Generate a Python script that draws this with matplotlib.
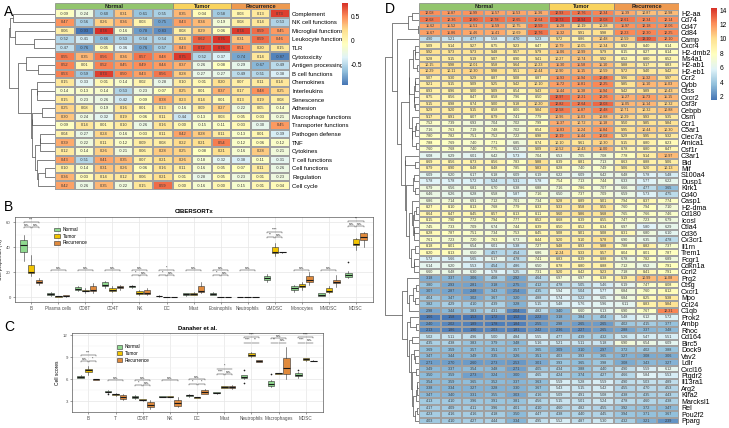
import numpy as np
import matplotlib
matplotlib.use('Agg')
import matplotlib.pyplot as plt
from matplotlib.colors import LinearSegmentedColormap, Normalize
from matplotlib.patches import Patch, Rectangle
from matplotlib.cm import ScalarMappable

plt.rcParams['font.family'] = ['Liberation Sans', 'DejaVu Sans']

# ---------------- data ----------------
groups = ['Normal', 'Tumor', 'Recurrence']
group_sizes = [6, 3, 3]

a_rows = ['Complement', 'NK cell functions', 'Microglial functions', 'Leukocyte functions', 'TLR',
          'Cytotoxicity', 'Antigen processing', 'B cell functions', 'Chemokines', 'Interleukins',
          'Senescence', 'Adhesion', 'Macrophage functions', 'Transporter functions', 'Pathogen defense',
          'TNF', 'Cytokines', 'T cell functions', 'Cell functions', 'Regulation', 'Cell cycle']
a_vals = [
    [-0.09, -0.24, -0.60, 0.31, -0.61, -0.55, 0.35, -0.04, -0.58, 0.03, 0.13, 0.73],
    [0.47, -0.56, 0.26, 0.36, 0.03, -0.75, 0.43, 0.34, -0.19, 0.08, 0.14, -0.53],
    [0.06, -0.93, 0.78, -0.16, -0.78, -0.83, 0.08, 0.29, -0.06, 0.74, 0.59, 0.45],
    [-0.52, -0.41, -0.66, -0.53, -0.54, -0.54, 0.24, 0.62, 0.76, 0.31, 0.59, 0.46],
    [-0.47, -0.76, -0.05, -0.36, -0.76, -0.57, 0.43, 0.72, 0.76, 0.51, 0.20, 0.15],
    [0.55, 0.35, 0.56, 0.36, 0.57, 0.48, 0.75, -0.52, -0.37, -0.74, 0.14, -0.87],
    [0.52, 0.01, 0.52, 0.45, 0.49, 0.44, 0.37, -0.26, -0.08, -0.29, -0.67, -0.49],
    [0.53, -0.59, 0.73, 0.50, 0.43, 0.56, 0.28, -0.27, -0.27, -0.49, -0.51, -0.38],
    [0.15, -0.33, -0.01, -0.14, 0.02, -0.28, 0.10, -0.01, 0.20, 0.07, 0.11, 0.14],
    [-0.14, -0.13, -0.14, -0.53, -0.23, -0.07, 0.25, 0.01, 0.37, 0.17, 0.48, 0.25],
    [0.15, -0.23, -0.26, -0.42, -0.09, 0.38, 0.23, 0.14, 0.01, 0.13, 0.19, 0.08],
    [0.25, 0.08, -0.19, 0.16, 0.01, 0.13, -0.16, 0.09, 0.27, -0.22, 0.05, -0.14],
    [0.30, -0.24, -0.32, 0.19, -0.06, 0.11, -0.44, -0.13, 0.03, -0.05, -0.03, -0.21],
    [-0.09, 0.14, 0.01, 0.10, -0.26, 0.16, -0.00, -0.15, -0.11, -0.03, -0.30, 0.45],
    [0.04, -0.27, 0.24, -0.16, -0.03, 0.11, 0.42, 0.28, 0.11, -0.13, 0.01, -0.39],
    [0.39, -0.22, 0.11, -0.12, 0.09, 0.08, 0.22, 0.21, 0.54, -0.12, -0.06, -0.12],
    [0.12, -0.14, 0.26, -0.21, 0.06, 0.28, 0.25, -0.08, 0.21, -0.16, 0.28, -0.21],
    [0.43, -0.51, 0.41, 0.35, 0.07, 0.21, 0.26, -0.18, -0.32, -0.38, -0.11, -0.31],
    [0.10, -0.14, 0.31, 0.26, -0.06, 0.16, 0.11, -0.16, -0.05, -0.07, 0.11, -0.26],
    [0.36, -0.03, 0.14, 0.12, 0.06, 0.21, -0.01, -0.28, -0.05, -0.23, -0.01, -0.23],
    [0.42, -0.26, 0.35, -0.22, 0.15, 0.59, -0.00, -0.16, -0.00, -0.15, -0.01, -0.04],
]

d_genes = ['H2-aa', 'Cd74', 'Cd47', 'Cd84', 'Camp', 'Cxcr4', 'H2-dmb2', 'Ms4a1', 'H2-ab1', 'H2-eb1',
           'Ccr2', 'Cybb', 'Ctss', 'Cxcr2', 'Csf3r', 'Cebpb', 'Osm', 'Ccr1', 'C5ar1', 'Clec7a',
           'Amica1', 'Csf1r', 'C3ar1', 'Bid', 'Mif', 'S100a4', 'Dusp1', 'Klrk1', 'Cd40', 'Casp1',
           'H2-dma', 'Cd180', 'Icosl', 'Ctla4', 'Cd36', 'Cx3cr1', 'Il1rn', 'Trem1', 'Fcgr1', 'Cdkn1a',
           'Ccrl2', 'Prg2', 'Ctsg', 'Cxcr1', 'Mpo', 'Ccl24', 'C1qb', 'Prok2', 'Ambp', 'Rhoc',
           'Cd164', 'Birc5', 'Dock9', 'Vav2', 'Ldlr', 'Cxcl16', 'Ptgdr2', 'Il13ra1', 'Arg2', 'Klra2',
           'Marcksl1', 'Rel', 'Pou2f2', 'Pparg']
d_vals = [
    [12.08, 11.87, 11.99, 11.57, 11.53, 11.36, 12.93, 12.76, 12.34, 11.39, 10.87, 10.98],
    [12.68, 12.36, 12.80, 12.78, 12.65, 12.64, 13.73, 13.94, 13.08, 12.61, 12.34, 12.14],
    [11.62, 11.52, 11.51, 11.59, 10.75, 12.59, 11.28, 10.19, 10.28, 11.97, 12.18, 12.06],
    [11.67, 11.86, 11.46, 11.41, 10.69, 12.76, 11.32, 9.91, 9.98, 12.23, 12.30, 12.25],
    [4.90, 5.21, 4.77, 5.58, 4.70, 5.23, 9.72, 8.86, 10.48, 10.59, 13.10, 12.10],
    [9.09, 9.14, 9.27, 8.75, 9.23, 8.47, 10.79, 10.05, 10.34, 8.92, 8.40, 8.14],
    [9.92, 9.73, 9.73, 9.48, 9.57, 9.79, 11.06, 10.99, 9.79, 8.15, 8.27, 8.14],
    [9.28, 9.15, 9.19, 9.07, 8.90, 9.41, 10.27, 10.74, 9.92, 8.52, 8.80, 8.52],
    [10.15, 9.98, 10.01, 9.58, 9.64, 10.23, 11.30, 11.58, 11.10, 9.88, 9.17, 8.83],
    [10.29, 10.11, 10.30, 9.98, 9.51, 10.44, 10.90, 11.15, 10.59, 9.72, 9.40, 9.42],
    [9.07, 9.30, 9.29, 8.87, 9.08, 8.87, 11.93, 11.94, 12.48, 9.96, 11.32, 9.97],
    [9.21, 9.15, 9.09, 9.25, 9.42, 10.10, 11.72, 11.81, 12.25, 9.85, 11.10, 11.03],
    [8.93, 8.96, 9.00, 9.09, 8.54, 9.43, 11.44, 11.38, 11.94, 9.42, 9.89, 10.43],
    [8.75, 8.56, 8.47, 8.58, 7.96, 8.50, 12.97, 12.21, 12.26, 11.27, 11.73, 11.15],
    [9.15, 8.98, 8.74, 9.00, 9.18, 10.20, 12.82, 12.64, 13.03, 11.05, 11.14, 10.32],
    [9.29, 9.20, 9.15, 8.58, 8.06, 9.84, 12.58, 11.87, 12.48, 10.71, 10.32, 10.88],
    [9.17, 8.91, 8.07, 8.79, 7.41, 7.79, 10.96, 11.03, 10.88, 10.29, 9.93, 9.35],
    [7.52, 7.39, 6.93, 7.04, 7.02, 7.99, 11.37, 10.72, 11.18, 9.50, 9.85, 9.84],
    [7.16, 7.63, 7.19, 7.48, 7.02, 8.54, 11.83, 11.24, 11.84, 9.95, 10.44, 10.30],
    [7.80, 7.82, 7.51, 7.52, 7.22, 8.98, 12.19, 11.44, 12.02, 9.29, 9.95, 9.32],
    [7.88, 7.69, 7.40, 7.71, 6.85, 8.74, 10.10, 9.61, 10.30, 9.15, 8.80, 8.23],
    [7.60, 7.68, 7.40, 7.75, 6.52, 9.09, 10.52, 10.43, 11.00, 8.78, 8.80, 8.47],
    [6.08, 6.29, 6.01, 6.42, 5.73, 7.04, 6.53, 7.05, 7.08, 7.78, 9.14, 10.97],
    [8.69, 8.56, 8.73, 8.56, 7.83, 9.88, 8.39, 8.81, 7.13, 8.63, 8.88, 9.06],
    [8.79, 8.90, 8.48, 8.48, 7.85, 9.83, 8.28, 7.40, 7.49, 9.06, 9.20, 10.13],
    [6.09, 6.20, 6.17, 6.18, 6.09, 6.19, 6.22, 6.09, 6.42, 6.48, 5.78, 5.48],
    [5.78, 5.78, 5.72, 5.24, 5.31, 5.78, 7.54, 7.13, 7.44, 6.33, 5.77, 6.22],
    [6.79, 6.56, 6.81, 6.70, 6.38, 6.88, 7.16, 7.86, 7.07, 6.66, 4.77, 3.65],
    [6.46, 6.26, 6.28, 6.58, 5.87, 7.16, 6.50, 7.37, 7.09, 6.59, 5.73, 4.75],
    [6.86, 7.14, 6.91, 7.12, 7.01, 7.34, 9.28, 8.89, 9.01, 7.94, 8.37, 7.74],
    [8.27, 8.10, 8.13, 7.68, 7.79, 8.33, 9.33, 9.58, 9.55, 7.60, 7.94, 7.10],
    [8.64, 8.47, 8.45, 8.57, 8.13, 8.11, 9.60, 9.86, 9.68, 7.65, 7.66, 7.46],
    [8.15, 7.90, 7.72, 7.94, 7.77, 8.52, 8.68, 8.39, 8.55, 7.47, 7.23, 6.79],
    [7.45, 7.33, 7.09, 6.74, 7.44, 8.39, 8.50, 8.52, 8.34, 6.97, 5.80, 6.29],
    [8.28, 7.87, 7.51, 7.34, 7.53, 8.45, 9.08, 9.01, 9.08, 8.31, 6.80, 6.10],
    [7.61, 7.23, 7.20, 7.63, 6.73, 8.44, 9.20, 9.10, 9.78, 6.90, 6.35, 4.78],
    [8.18, 8.01, 6.54, 6.01, 5.38, 7.27, 9.48, 8.93, 9.88, 7.88, 8.82, 7.37],
    [8.20, 8.13, 6.50, 4.57, 4.54, 6.86, 10.24, 9.33, 9.57, 8.04, 8.01, 7.87],
    [5.72, 5.66, 5.65, 6.17, 4.78, 7.41, 8.83, 8.39, 8.88, 6.78, 7.82, 6.89],
    [6.14, 6.20, 5.53, 4.54, 4.86, 6.50, 8.78, 8.80, 8.88, 7.12, 6.52, 7.91],
    [6.60, 6.48, 6.30, 5.78, 5.25, 7.31, 9.20, 8.42, 9.23, 7.18, 8.41, 7.91],
    [3.18, 3.37, 3.06, 4.08, 2.92, 4.64, 6.97, 6.97, 8.38, 9.19, 10.99, 11.08],
    [3.80, 2.93, 2.81, 3.18, 2.75, 4.12, 4.78, 5.05, 5.46, 6.19, 7.47, 8.08],
    [3.07, 2.87, 2.48, 3.43, 2.54, 4.35, 5.94, 5.04, 5.77, 6.84, 7.60, 8.12],
    [4.04, 3.47, 3.02, 3.67, 3.20, 4.88, 5.74, 5.22, 6.05, 6.84, 8.25, 9.38],
    [3.82, 4.29, 4.10, 4.39, 3.28, 5.15, 5.48, 5.76, 5.96, 6.11, 8.83, 9.84],
    [2.98, 3.44, 3.83, 4.31, 2.04, 4.82, 3.40, 6.60, 6.13, 6.90, 7.67, 12.31],
    [1.66, 1.58, 1.53, 1.72, 1.52, 2.22, 3.18, 3.84, 4.04, 5.48, 6.12, 5.72],
    [2.40, 2.02, 1.89, 1.78, 1.84, 2.55, 2.98, 2.65, 2.65, 4.02, 4.15, 3.77],
    [2.13, 1.86, 1.90, 2.03, 1.81, 2.42, 2.36, 2.27, 2.65, 2.88, 3.37, 3.48],
    [5.02, 5.11, 4.96, 5.00, 4.84, 5.55, 4.77, 4.39, 4.32, 5.26, 5.47, 5.51],
    [4.35, 4.38, 3.83, 3.79, 3.48, 5.16, 5.21, 5.11, 5.18, 6.90, 6.54, 6.09],
    [3.69, 3.59, 3.57, 3.51, 3.57, 3.65, 3.09, 3.10, 2.97, 3.72, 4.02, 3.88],
    [3.47, 3.44, 3.49, 3.35, 3.26, 3.51, 4.03, 3.93, 3.65, 3.27, 3.08, 3.06],
    [2.71, 2.70, 2.60, 2.73, 2.53, 3.01, 3.93, 3.65, 3.98, 3.08, 3.43, 3.27],
    [3.49, 3.37, 3.54, 3.48, 2.71, 4.05, 4.34, 3.88, 4.40, 4.90, 5.59, 6.12],
    [3.50, 3.59, 2.73, 3.24, 3.00, 4.65, 4.24, 3.74, 4.27, 4.66, 5.84, 5.53],
    [3.54, 3.59, 3.65, 3.52, 3.37, 3.63, 5.59, 5.28, 5.59, 4.90, 5.03, 4.89],
    [3.38, 3.34, 3.27, 3.28, 3.30, 3.67, 5.43, 5.15, 5.42, 4.55, 4.70, 4.53],
    [3.47, 3.40, 3.31, 3.55, 3.03, 4.16, 5.09, 4.91, 5.08, 4.38, 4.35, 4.43],
    [4.13, 4.10, 3.96, 3.91, 3.81, 4.56, 5.15, 5.01, 5.24, 4.78, 4.60, 4.38],
    [4.17, 4.09, 4.11, 3.96, 4.01, 4.10, 4.60, 4.82, 4.55, 3.92, 3.72, 3.47],
    [4.23, 4.16, 4.16, 4.18, 3.50, 4.47, 4.38, 4.40, 4.45, 3.94, 3.71, 3.67],
    [4.03, 4.10, 4.27, 4.44, 3.34, 4.95, 5.52, 4.87, 5.30, 4.32, 3.21, 2.39],
]

# CIBERSORTx boxes: [lower whisker, q1, median, q3, upper whisker]
b_cats = ['B', 'Plasma cells', 'CD8T', 'CD4T', 'NK', 'DC', 'Mast', 'Eosinophils', 'Neutrophils',
          'GMDSC', 'Monocytes', 'MMDSC', 'MDSC']
b_normal = [[29, 36, 42, 46, 50], [1, 1.8, 2.5, 3.5, 4.2], [4.5, 5.5, 6.5, 7.8, 9], [7, 8.5, 10, 12, 13],
            [7, 8, 8.6, 9.2, 10], [0.3, 0.5, 0.8, 1.0, 1.3], [1, 1.5, 2.2, 3, 3.5], [1.5, 2, 2.5, 3.2, 3.8],
            [0, 0.1, 0.2, 0.3, 0.4], [12.5, 14, 15.5, 17, 18.5], [4, 6, 7, 8.5, 10], [0.5, 1.2, 2, 3, 3.5],
            [15, 16.5, 18, 19.5, 21]]
b_tumor = [[17, 19.5, 20.5, 26, 34], [0.2, 0.4, 0.6, 0.9, 1.2], [3.5, 4.5, 5.2, 6, 7], [4, 5, 5.5, 7.5, 8.5],
           [2, 2.5, 3.2, 4.5, 5.5], [0, 0.1, 0.2, 0.3, 0.4], [1.5, 2, 2.5, 3, 4], [0, 0.05, 0.1, 0.2, 0.3],
           [0, 0.05, 0.1, 0.15, 0.2], [33, 35, 36.5, 40, 43], [6, 8, 9, 10.5, 12], [3, 4, 5, 7, 9],
           [38, 41.5, 42.5, 47, 47.5]]
b_recur = [[10, 11.5, 12.5, 14, 15], [0.3, 0.6, 0.9, 1.3, 1.7], [3, 4.5, 6, 9, 11], [6, 7, 7.8, 8.8, 9.5],
           [1.5, 2.5, 3.5, 6, 7.5], [0, 0.1, 0.2, 0.3, 0.4], [3.5, 4, 5, 8.5, 12], [0, 0.05, 0.1, 0.15, 0.2],
           [0, 0.05, 0.1, 0.15, 0.2], [35.6, 35.8, 36, 36.2, 36.4], [10, 12, 14, 17, 20], [8, 11, 12, 13.5, 18],
           [40, 45.5, 48, 51.5, 52.5]]
b_fliers = {('Normal', 'MDSC'): [28]}
b_top_lab = ['***', 'n.s.', 'n.s.', 'n.s.', 'n.s.', '*', 'n.s.', 'n.s.', 'n.s.', '****', 'n.s.', 'n.s.', '**']
b_top_y = [60, 21.5, 21.5, 21.5, 21.5, 21.5, 21.5, 21.5, 21.5, 52, 21.5, 21.5, 61]
b_pair_lab = [('n.s.', 'n.s.'), None, None, None, ('*', 'n.s.'), ('*', 'n.s.'), None, ('*', 'n.s.'), None,
              ('**', 'n.s.'), None, None, ('n.s.', 'n.s.')]
b_pair_y = [56, 0, 0, 0, 17.5, 17.5, 0, 17.5, 0, 48, 0, 0, 57]

# Danaher boxes
c_cats = ['B', 'T', 'CD8T', 'NK', 'DC', 'Mast', 'Neutrophils', 'Macrophages', 'MDSC']
c_normal = [[6.1, 6.2, 6.3, 6.45, 6.6], [4.1, 4.2, 4.3, 4.4, 4.5], [3.3, 3.45, 3.6, 3.75, 3.85],
            [3.5, 3.55, 3.6, 3.65, 3.7], [3.6, 3.7, 3.8, 3.85, 3.95], [4.0, 4.05, 4.1, 4.2, 4.3],
            [6.0, 6.1, 6.3, 6.5, 6.6], [4.9, 5.0, 5.3, 5.8, 5.9], [6.2, 6.4, 6.6, 6.9, 7.0]]
c_tumor = [[6.6, 6.95, 7.2, 7.4, 7.8], [3.7, 3.8, 3.9, 4.0, 4.05], [3.0, 3.1, 3.2, 3.25, 3.3],
           [3.5, 3.55, 3.6, 3.65, 3.7], [3.4, 3.45, 3.5, 3.55, 3.6], [4.8, 4.85, 4.9, 5.0, 5.05],
           [9.0, 9.2, 9.35, 9.5, 9.7], [6.7, 6.75, 6.8, 6.85, 6.9], [8.5, 8.6, 8.75, 8.85, 8.9]]
c_recur = [[5.85, 5.9, 5.95, 6.0, 6.05], [3.1, 3.3, 3.5, 3.8, 4.0], [1.9, 2.15, 2.4, 2.9, 3.2],
           [2.2, 2.35, 2.7, 3.15, 3.6], [3.95, 4.0, 4.2, 4.5, 4.6], [4.7, 4.8, 4.95, 5.1, 5.25],
           [8.3, 8.35, 8.45, 8.55, 8.6], [6.0, 6.7, 7.5, 8.9, 10.45], [8.45, 8.48, 8.5, 8.52, 8.55]]
c_fliers = {('Normal', 'T'): [3.9], ('Normal', 'Neutrophils'): [7.2, 5.5],
            ('Normal', 'Macrophages'): [6.7], ('Normal', 'MDSC'): [7.3]}
c_top_lab = ['***', 'n.s.', 'n.s.', 'n.s.', 'n.s.', '*', '****', 'n.s.', '****']
c_top_y = [9.3, 5.9, 5.9, 5.9, 5.95, 7.45, 11.8, 11.55, 11.8]
c_pair_lab = [('n.s.', '*'), None, ('*', 'n.s.'), None, ('*', '*'), ('****', 'n.s.'), ('****', '**'),
              ('**', 'n.s.'), ('****', 'n.s.')]
c_pair_y = [8.5, 0, 5.2, 0, 5.3, 6.7, 11.0, 11.0, 11.0]

# ---------------- styles ----------------
W, H = 729, 428
fig = plt.figure(figsize=(W / 100, H / 100), dpi=100)
heat_cmap = LinearSegmentedColormap.from_list(
    'pheat', ['#4575B4', '#91BFDB', '#E0F3F8', '#FFFFBF', '#FEE090', '#FC8D59', '#D73027'])
head_cols = ['#93C56E', '#F9D35E', '#EE9A50']
box_cols = ['#8FD98F', '#F2C400', '#E08A3C']


def px_axes(x0, y0, x1, y1):
    return fig.add_axes([x0 / W, 1 - y1 / H, (x1 - x0) / W, (y1 - y0) / H])


def ordered_tree(X):
    # average-linkage clustering restricted to neighbouring rows (keeps row order)
    X = np.asarray(X, float)
    members = [[i] for i in range(len(X))]
    ypos = [float(i) for i in range(len(X))]
    hgt = [0.0] * len(X)
    segs = []
    while len(members) > 1:
        d = [np.mean([np.linalg.norm(X[a] - X[b]) for a in members[k] for b in members[k + 1]])
             for k in range(len(members) - 1)]
        k = int(np.argmin(d))
        h = max(d[k], hgt[k], hgt[k + 1])
        segs.append(([hgt[k], h, h, hgt[k + 1]], [ypos[k], ypos[k], ypos[k + 1], ypos[k + 1]]))
        members[k:k + 2] = [members[k] + members[k + 1]]
        ypos[k:k + 2] = [(ypos[k] + ypos[k + 1]) / 2]
        hgt[k:k + 2] = [h]
    return segs, hgt[0]


def heat_panel(vals, labels, hm, head, dend, cbar, vmin, vmax, cticks, ctlabels, lab_fs, num_fs):
    vals = np.array(vals)
    n, m = vals.shape
    norm = Normalize(vmin, vmax)
    ax = px_axes(*hm)
    ax.pcolormesh(np.arange(m + 1), np.arange(n + 1), vals, cmap=heat_cmap, norm=norm,
                  edgecolors='#A0A0A0', linewidth=0.3)
    for i in range(n):
        for j in range(m):
            ax.text(j + 0.5, i + 0.5, f'{vals[i, j]:.2f}', ha='center', va='center',
                    fontsize=num_fs, color='#3A3A3A')
    ax.set_xlim(0, m)
    ax.set_ylim(n, 0)
    ax.set_xticks([])
    ax.yaxis.tick_right()
    ax.set_yticks(np.arange(n) + 0.5)
    ax.set_yticklabels(labels, fontsize=lab_fs)
    ax.tick_params(axis='y', length=0, pad=1.5)
    for s in ax.spines.values():
        s.set_visible(False)

    hx = px_axes(*head)
    start = 0
    for g, sz, c in zip(groups, group_sizes, head_cols):
        hx.add_patch(Rectangle((start, 0), sz, 1, facecolor=c, edgecolor='#707070', lw=0.4))
        hx.text(start + sz / 2, 0.5, g, ha='center', va='center', fontsize=4.0,
                fontweight='bold', color='#222222')
        start += sz
    hx.set_xlim(0, m)
    hx.set_ylim(0, 1)
    hx.axis('off')

    dx = px_axes(*dend)
    segs, top = ordered_tree(vals)
    for xs, ys in segs:
        dx.plot(xs, [y + 0.5 for y in ys], color='#4D4D4D', lw=0.5, solid_capstyle='butt')
    dx.set_xlim(top * 1.02, 0)
    dx.set_ylim(n, 0)
    dx.axis('off')

    cx = px_axes(*cbar)
    cb = fig.colorbar(ScalarMappable(norm=norm, cmap=heat_cmap), cax=cx)
    cb.outline.set_visible(False)
    cb.set_ticks(cticks)
    cb.set_ticklabels(ctlabels)
    cx.tick_params(length=0, labelsize=4.8, pad=2)


def box_panel(box, cats, series, fliers, ylim, yticks, ylabel, title, top_lab, top_y,
              pair_lab, pair_y, leg_anchor):
    ax = px_axes(*box)
    off = 0.28
    wid = 0.24
    pos = np.arange(len(cats))
    span = ylim[1] - ylim[0]
    for k, (g, data) in enumerate(zip(groups, series)):
        stats = []
        for c, q in zip(cats, data):
            stats.append(dict(whislo=q[0], q1=q[1], med=q[2], q3=q[3], whishi=q[4],
                              fliers=fliers.get((g, c), [])))
        ax.bxp(stats, positions=pos + (k - 1) * off, widths=wid, patch_artist=True,
               showcaps=False, manage_ticks=False,
               boxprops=dict(facecolor=box_cols[k], edgecolor='#333333', lw=0.4),
               medianprops=dict(color='#1A1A1A', lw=0.8),
               whiskerprops=dict(color='#333333', lw=0.4),
               flierprops=dict(marker='o', markersize=1.2, markerfacecolor='#222222',
                               markeredgecolor='none'))
    tip = span * 0.012
    for i in range(len(cats)):
        x0, x1 = pos[i] - off, pos[i] + off
        y = top_y[i]
        ax.plot([x0, x0, x1, x1], [y - tip, y, y, y - tip], color='#333333', lw=0.35)
        ax.text(pos[i], y + span * 0.004, top_lab[i], ha='center', va='bottom', fontsize=2.6,
                color='#222222')
        if pair_lab[i] is not None:
            y = pair_y[i]
            for (a, b), lab in zip([(x0, pos[i] - 0.02), (pos[i] + 0.02, x1)], pair_lab[i]):
                ax.plot([a, a, b, b], [y - tip, y, y, y - tip], color='#333333', lw=0.35)
                ax.text((a + b) / 2, y + span * 0.004, lab, ha='center', va='bottom',
                        fontsize=2.6, color='#222222')
    ax.set_xlim(-0.6, len(cats) - 0.37)
    ax.set_ylim(*ylim)
    ax.set_xticks(pos)
    ax.set_xticklabels(cats, fontsize=3.3, color='#4D4D4D')
    ax.set_yticks(yticks)
    ax.set_yticklabels([str(t) for t in yticks], fontsize=3.1, color='#4D4D4D')
    ax.set_yticks([(a + b) / 2 for a, b in zip(yticks[:-1], yticks[1:])], minor=True)
    ax.tick_params(axis='both', which='major', length=1.5, width=0.4, pad=1.5, color='#555555')
    ax.tick_params(axis='y', which='minor', length=0)
    ax.grid(True, which='major', color='#E6E6E6', lw=0.5)
    ax.grid(True, which='minor', axis='y', color='#F2F2F2', lw=0.35)
    ax.set_axisbelow(True)
    for s in ax.spines.values():
        s.set_color('#5A5A5A')
        s.set_linewidth(0.5)
    ax.set_ylabel(ylabel, fontsize=3.5, labelpad=2)
    ax.set_title(title, fontsize=4.3, fontweight='bold', pad=2.5)
    handles = [Patch(facecolor=c, edgecolor='#333333', lw=0.4, label=g) for g, c in zip(groups, box_cols)]
    ax.legend(handles=handles, loc='upper left', bbox_to_anchor=leg_anchor, frameon=False,
              fontsize=3.4, handlelength=1.2, handleheight=0.9, labelspacing=0.35,
              handletextpad=0.5, borderaxespad=0)


# ---------------- panels ----------------
heat_panel(a_vals, a_rows, hm=(55, 9.3, 290, 190), head=(55, 3.3, 290, 9.3), dend=(8, 9.3, 55, 190),
           cbar=(342, 3, 348, 85), vmin=-0.93, vmax=0.78, cticks=[-0.5, 0, 0.5],
           ctlabels=['-0.5', '0', '0.5'], lab_fs=4.3, num_fs=2.9)

heat_panel(d_vals, d_genes, hm=(419, 10, 679, 424), head=(419, 3.5, 679, 10), dend=(384, 10, 419, 424),
           cbar=(711, 8, 717, 100), vmin=1.5, vmax=14.3, cticks=[2, 4, 6, 8, 10, 12, 14],
           ctlabels=['2', '4', '6', '8', '10', '12', '14'], lab_fs=5.1, num_fs=2.7)

box_panel((15, 216.7, 373, 301.7), b_cats, [b_normal, b_tumor, b_recur], b_fliers, (-3.7, 64.5),
          [0, 20, 40, 60], 'Cell proportion (%)', 'CIBERSORTx', b_top_lab, b_top_y, b_pair_lab, b_pair_y,
          (0.105, 0.90))

box_panel((72, 333, 323, 411.7), c_cats, [c_normal, c_tumor, c_recur], c_fliers, (1.55, 12.3),
          [3, 6, 9, 12], 'Cell scores', 'Danaher et al.', c_top_lab, c_top_y, c_pair_lab, c_pair_y,
          (0.17, 0.88))

for lab, x, y in [('A', 4, 12), ('B', 4, 207), ('C', 4, 327), ('D', 385, 9)]:
    fig.text(x / W, 1 - y / H, lab, fontsize=10, va='center', ha='left')

fig.savefig('out.png', dpi=100)
